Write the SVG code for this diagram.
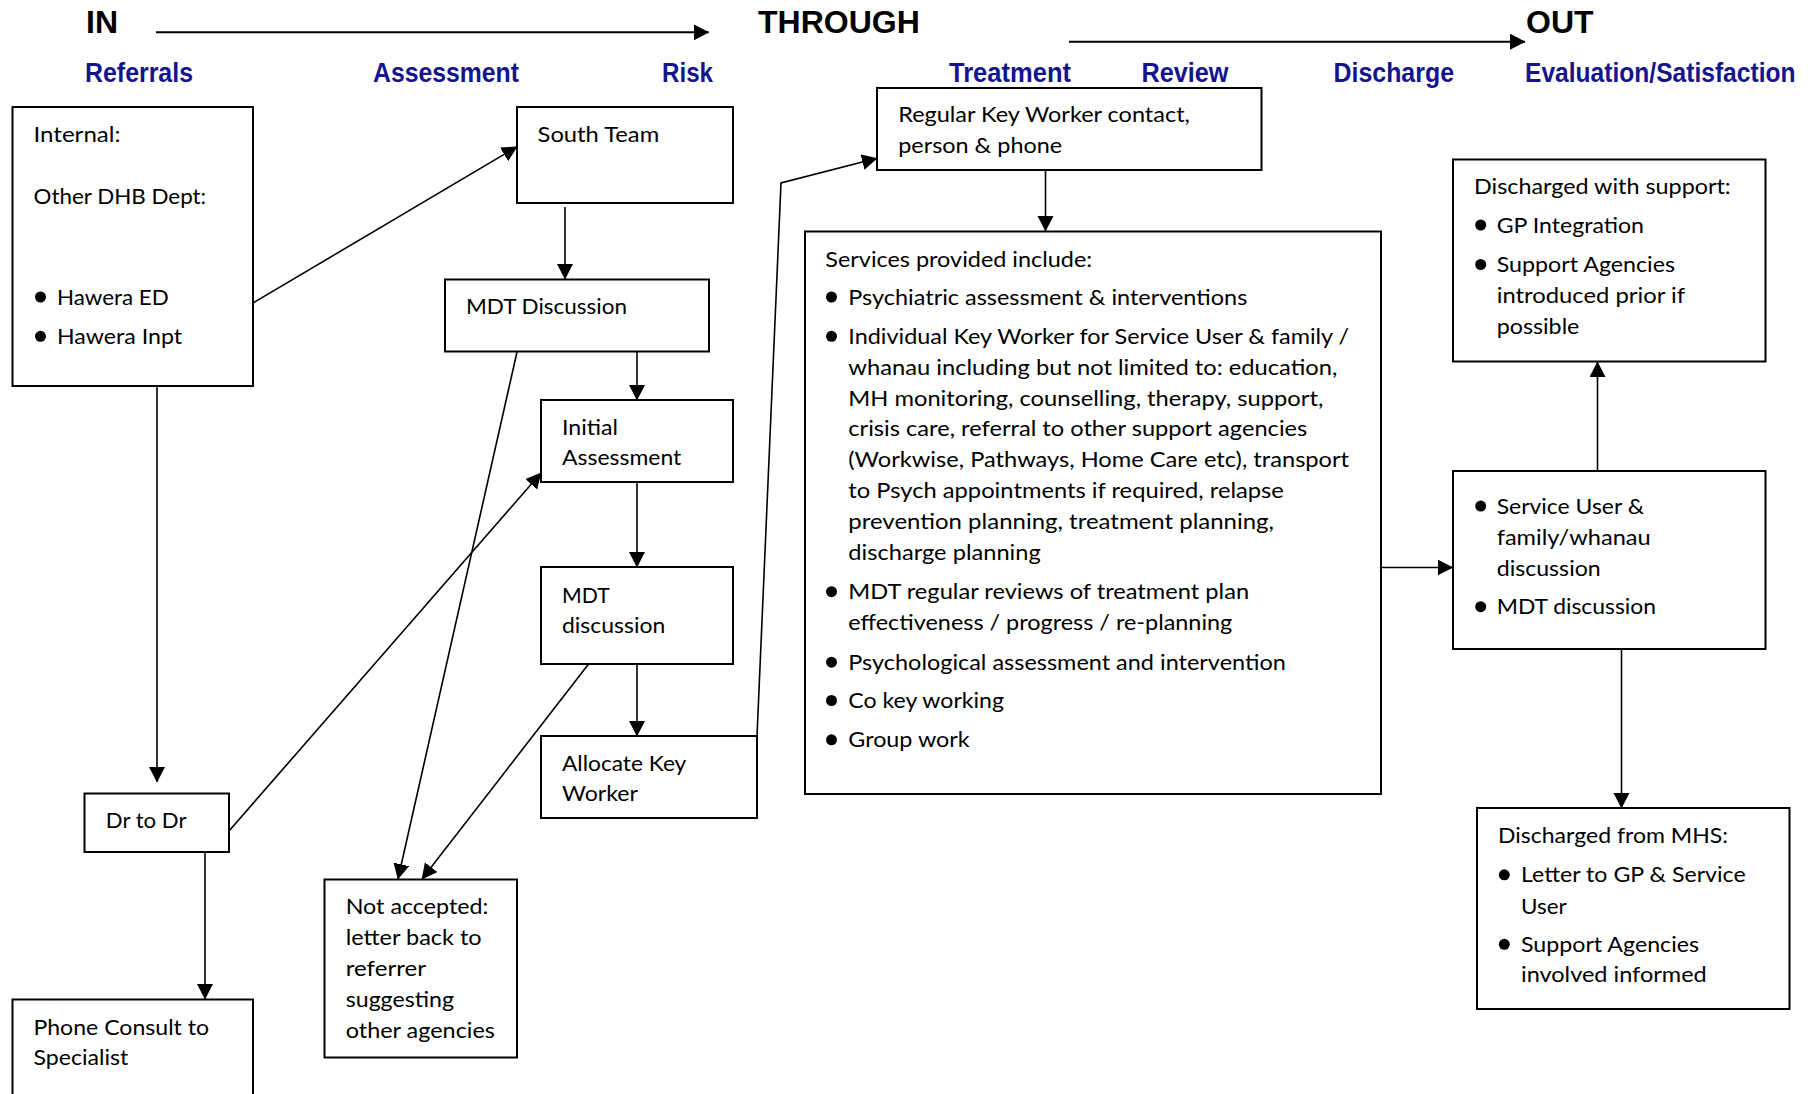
<svg xmlns="http://www.w3.org/2000/svg" width="1812" height="1094" viewBox="0 0 1812 1094">
  <defs>
    <style>
      .box{fill:#fff;stroke:#000;stroke-width:2}
      .t{font-family:Lato,"Open Sans","DejaVu Sans",sans-serif;font-size:22px;fill:#000}
      .hd{font-family:"Liberation Sans",Arial,sans-serif;font-weight:bold;font-size:32px;fill:#000}
      .ph{font-family:"Liberation Sans",Arial,sans-serif;font-weight:bold;font-size:27.5px;fill:#14148c}
      .c{fill:none;stroke:#000;stroke-width:1.6}
      .flow{fill:none;stroke:#000;stroke-width:2}
      .dot{fill:#000}
    </style>
    <marker id="ah" markerUnits="userSpaceOnUse" markerWidth="17" markerHeight="17" refX="15" refY="8" orient="auto">
      <path d="M0,0 L15.5,8 L0,16 z" fill="#000"/>
    </marker>
  </defs>

  <rect width="1812" height="1094" fill="#fff"/>

  <!-- stage headings -->
  <g id="stages">
    <text class="hd" x="86" y="33.3">IN</text>
    <text class="hd" x="758" y="33.3">THROUGH</text>
    <text class="hd" x="1526" y="33.3">OUT</text>
    <line class="flow" x1="156" y1="32.3" x2="708.7" y2="32.3" marker-end="url(#ah)"/>
    <line class="flow" x1="1069" y1="41.7" x2="1525" y2="41.7" marker-end="url(#ah)"/>
    <text class="ph" x="85" y="82" textLength="108" lengthAdjust="spacingAndGlyphs">Referrals</text>
    <text class="ph" x="373" y="82" textLength="146" lengthAdjust="spacingAndGlyphs">Assessment</text>
    <text class="ph" x="662" y="82" textLength="51" lengthAdjust="spacingAndGlyphs">Risk</text>
    <text class="ph" x="949" y="82" textLength="122" lengthAdjust="spacingAndGlyphs">Treatment</text>
    <text class="ph" x="1141.5" y="82" textLength="87" lengthAdjust="spacingAndGlyphs">Review</text>
    <text class="ph" x="1333.5" y="82" textLength="120.5" lengthAdjust="spacingAndGlyphs">Discharge</text>
    <text class="ph" x="1525" y="82" textLength="270.5" lengthAdjust="spacingAndGlyphs">Evaluation/Satisfaction</text>
  </g>

  <!-- connectors -->
  <g id="connectors">
    <line class="c" x1="253" y1="303" x2="517" y2="146.7" marker-end="url(#ah)"/>
    <line class="c" x1="565" y1="207" x2="565" y2="279" marker-end="url(#ah)"/>
    <line class="c" x1="637" y1="352" x2="637" y2="400" marker-end="url(#ah)"/>
    <line class="c" x1="637" y1="482" x2="637" y2="567" marker-end="url(#ah)"/>
    <line class="c" x1="637" y1="664" x2="637" y2="736" marker-end="url(#ah)"/>
    <line class="c" x1="517" y1="352" x2="398" y2="879" marker-end="url(#ah)"/>
    <line class="c" x1="588.6" y1="664" x2="422" y2="879" marker-end="url(#ah)"/>
    <line class="c" x1="157" y1="386" x2="157" y2="782" marker-end="url(#ah)"/>
    <line class="c" x1="229" y1="831" x2="541" y2="473" marker-end="url(#ah)"/>
    <line class="c" x1="205" y1="852" x2="205" y2="999" marker-end="url(#ah)"/>
    <polyline class="c" points="757,736 781,183 877,158.3" marker-end="url(#ah)"/>
    <line class="c" x1="1045.5" y1="170" x2="1045.5" y2="231" marker-end="url(#ah)"/>
    <line class="c" x1="1381" y1="567.5" x2="1452.7" y2="567.5" marker-end="url(#ah)"/>
    <line class="c" x1="1597.5" y1="471" x2="1597.5" y2="362" marker-end="url(#ah)"/>
    <line class="c" x1="1621.5" y1="649" x2="1621.5" y2="808" marker-end="url(#ah)"/>
  </g>

  <g id="referral-sources">
    <rect class="box" x="12.5" y="107" width="240.5" height="279"/>
    <text class="t" x="33.5" y="141.6" textLength="87" lengthAdjust="spacingAndGlyphs">Internal:</text>
    <text class="t" x="33.5" y="204" textLength="172.7" lengthAdjust="spacingAndGlyphs">Other DHB Dept:</text>
    <circle class="dot" cx="40.5" cy="297" r="5.5"/>
    <text class="t" x="57" y="304.5" textLength="111.7" lengthAdjust="spacingAndGlyphs">Hawera ED</text>
    <circle class="dot" cx="40.5" cy="336.3" r="5.5"/>
    <text class="t" x="57" y="343.8" textLength="125" lengthAdjust="spacingAndGlyphs">Hawera Inpt</text>
  </g>

  <g id="south-team">
    <rect class="box" x="517" y="107" width="216" height="96"/>
    <text class="t" x="537.6" y="141.6" textLength="121.6" lengthAdjust="spacingAndGlyphs">South Team</text>
  </g>

  <g id="mdt-discussion-1">
    <rect class="box" x="445" y="279.5" width="264" height="72"/>
    <text class="t" x="466" y="313.8" textLength="161" lengthAdjust="spacingAndGlyphs">MDT Discussion</text>
  </g>

  <g id="initial-assessment">
    <rect class="box" x="541" y="400" width="192" height="82"/>
    <text class="t" x="562" y="435.3" textLength="56" lengthAdjust="spacingAndGlyphs">Initial</text>
    <text class="t" x="562" y="465.2" textLength="119.3" lengthAdjust="spacingAndGlyphs">Assessment</text>
  </g>

  <g id="mdt-discussion-2">
    <rect class="box" x="541" y="567" width="192" height="97"/>
    <text class="t" x="562" y="603.3" textLength="47.7" lengthAdjust="spacingAndGlyphs">MDT</text>
    <text class="t" x="562" y="632.7" textLength="103.3" lengthAdjust="spacingAndGlyphs">discussion</text>
  </g>

  <g id="allocate-key-worker">
    <rect class="box" x="541" y="736" width="216" height="82"/>
    <text class="t" x="562" y="770.7" textLength="124.3" lengthAdjust="spacingAndGlyphs">Allocate Key</text>
    <text class="t" x="562" y="800.7" textLength="76" lengthAdjust="spacingAndGlyphs">Worker</text>
  </g>

  <g id="dr-to-dr">
    <rect class="box" x="84.5" y="793.5" width="144.5" height="58.5"/>
    <text class="t" x="105.8" y="828.3" textLength="80.7" lengthAdjust="spacingAndGlyphs">Dr to Dr</text>
  </g>

  <g id="not-accepted">
    <rect class="box" x="324.5" y="879.5" width="192.5" height="178"/>
    <text class="t" x="345.7" y="914.3" textLength="142.7" lengthAdjust="spacingAndGlyphs">Not accepted:</text>
    <text class="t" x="345.7" y="945.2" textLength="136" lengthAdjust="spacingAndGlyphs">letter back to</text>
    <text class="t" x="345.7" y="976.1" textLength="80.3" lengthAdjust="spacingAndGlyphs">referrer</text>
    <text class="t" x="345.7" y="1007" textLength="108.3" lengthAdjust="spacingAndGlyphs">suggesting</text>
    <text class="t" x="345.7" y="1037.9" textLength="149.3" lengthAdjust="spacingAndGlyphs">other agencies</text>
  </g>

  <g id="phone-consult">
    <rect class="box" x="12.5" y="999.5" width="240.5" height="120"/>
    <text class="t" x="33.4" y="1035" textLength="175.7" lengthAdjust="spacingAndGlyphs">Phone Consult to</text>
    <text class="t" x="33.4" y="1065.2" textLength="95" lengthAdjust="spacingAndGlyphs">Specialist</text>
  </g>

  <g id="key-worker-contact">
    <rect class="box" x="877" y="88" width="384.5" height="82"/>
    <text class="t" x="898.2" y="122.2" textLength="291.7" lengthAdjust="spacingAndGlyphs">Regular Key Worker contact,</text>
    <text class="t" x="898.2" y="152.8" textLength="164" lengthAdjust="spacingAndGlyphs">person &amp; phone</text>
  </g>

  <g id="services">
    <rect class="box" x="805" y="231.5" width="576" height="562.5"/>
    <text class="t" x="825.3" y="266.5" textLength="266.8" lengthAdjust="spacingAndGlyphs">Services provided include:</text>
    <circle class="dot" cx="831.5" cy="297" r="5.5"/>
    <text class="t" x="848.3" y="304.5" textLength="399" lengthAdjust="spacingAndGlyphs">Psychiatric assessment &amp; interventions</text>
    <circle class="dot" cx="831.5" cy="336.3" r="5.5"/>
    <text class="t" x="848.3" y="343.8" textLength="500.8" lengthAdjust="spacingAndGlyphs">Individual Key Worker for Service User &amp; family /</text>
    <text class="t" x="848.3" y="374.8" textLength="489" lengthAdjust="spacingAndGlyphs">whanau including but not limited to: education,</text>
    <text class="t" x="848.3" y="405.6" textLength="475" lengthAdjust="spacingAndGlyphs">MH monitoring, counselling, therapy, support,</text>
    <text class="t" x="848.3" y="436.4" textLength="459" lengthAdjust="spacingAndGlyphs">crisis care, referral to other support agencies</text>
    <text class="t" x="848.3" y="467.3" textLength="500.8" lengthAdjust="spacingAndGlyphs">(Workwise, Pathways, Home Care etc), transport</text>
    <text class="t" x="848.3" y="498.2" textLength="435.6" lengthAdjust="spacingAndGlyphs">to Psych appointments if required, relapse</text>
    <text class="t" x="848.3" y="529.1" textLength="425.7" lengthAdjust="spacingAndGlyphs">prevention planning, treatment planning,</text>
    <text class="t" x="848.3" y="560" textLength="192.5" lengthAdjust="spacingAndGlyphs">discharge planning</text>
    <circle class="dot" cx="831.5" cy="591.7" r="5.5"/>
    <text class="t" x="848.3" y="599.2" textLength="400.8" lengthAdjust="spacingAndGlyphs">MDT regular reviews of treatment plan</text>
    <text class="t" x="848.3" y="630.4" textLength="384" lengthAdjust="spacingAndGlyphs">effectiveness / progress / re-planning</text>
    <circle class="dot" cx="831.5" cy="662.2" r="5.5"/>
    <text class="t" x="848.3" y="669.7" textLength="437.5" lengthAdjust="spacingAndGlyphs">Psychological assessment and intervention</text>
    <circle class="dot" cx="831.5" cy="700.5" r="5.5"/>
    <text class="t" x="848.3" y="708" textLength="155.7" lengthAdjust="spacingAndGlyphs">Co key working</text>
    <circle class="dot" cx="831.5" cy="739.8" r="5.5"/>
    <text class="t" x="848.3" y="747.3" textLength="121.3" lengthAdjust="spacingAndGlyphs">Group work</text>
  </g>

  <g id="discharged-with-support">
    <rect class="box" x="1453" y="159.5" width="312.5" height="202"/>
    <text class="t" x="1474" y="193.5" textLength="256.7" lengthAdjust="spacingAndGlyphs">Discharged with support:</text>
    <circle class="dot" cx="1480.7" cy="225" r="5.5"/>
    <text class="t" x="1496.7" y="232.5" textLength="147.3" lengthAdjust="spacingAndGlyphs">GP Integration</text>
    <circle class="dot" cx="1480.7" cy="264.5" r="5.5"/>
    <text class="t" x="1496.7" y="272" textLength="178.3" lengthAdjust="spacingAndGlyphs">Support Agencies</text>
    <text class="t" x="1496.7" y="302.8" textLength="188.3" lengthAdjust="spacingAndGlyphs">introduced prior if</text>
    <text class="t" x="1496.7" y="333.5" textLength="82.7" lengthAdjust="spacingAndGlyphs">possible</text>
  </g>

  <g id="review-discussion">
    <rect class="box" x="1453" y="471" width="312.5" height="178"/>
    <circle class="dot" cx="1480.7" cy="506.1" r="5.5"/>
    <text class="t" x="1496.7" y="513.6" textLength="147.3" lengthAdjust="spacingAndGlyphs">Service User &amp;</text>
    <text class="t" x="1496.7" y="544.7" textLength="154" lengthAdjust="spacingAndGlyphs">family/whanau</text>
    <text class="t" x="1496.7" y="575.8" textLength="104" lengthAdjust="spacingAndGlyphs">discussion</text>
    <circle class="dot" cx="1480.7" cy="606.7" r="5.5"/>
    <text class="t" x="1496.7" y="614.2" textLength="159.3" lengthAdjust="spacingAndGlyphs">MDT discussion</text>
  </g>

  <g id="discharged-from-mhs">
    <rect class="box" x="1477" y="808" width="312.5" height="201"/>
    <text class="t" x="1498" y="843" textLength="230" lengthAdjust="spacingAndGlyphs">Discharged from MHS:</text>
    <circle class="dot" cx="1504.3" cy="874.8" r="5.5"/>
    <text class="t" x="1521" y="882.3" textLength="224.7" lengthAdjust="spacingAndGlyphs">Letter to GP &amp; Service</text>
    <text class="t" x="1521" y="913.5" textLength="45.7" lengthAdjust="spacingAndGlyphs">User</text>
    <circle class="dot" cx="1504.3" cy="944.3" r="5.5"/>
    <text class="t" x="1521" y="951.8" textLength="178" lengthAdjust="spacingAndGlyphs">Support Agencies</text>
    <text class="t" x="1521" y="982" textLength="185.7" lengthAdjust="spacingAndGlyphs">involved informed</text>
  </g>
</svg>
